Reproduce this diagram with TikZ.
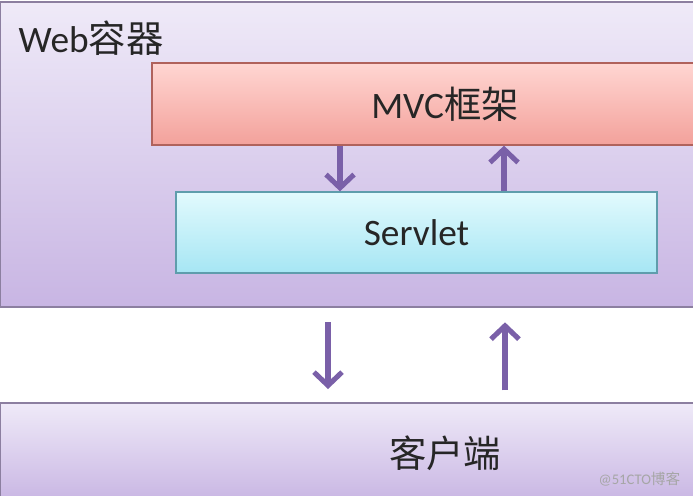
\documentclass[tikz,border=0pt]{standalone}
\usepackage{fontspec}
\setmainfont{Carlito}
\newfontfamily\cjk{Noto Sans CJK SC}
\usetikzlibrary{arrows.meta,positioning}
\definecolor{webtop}{HTML}{EFEAF8}
\definecolor{webbot}{HTML}{C8B5E3}
\definecolor{webline}{HTML}{8C7FA0}
\definecolor{mvctop}{HTML}{FFD6D2}
\definecolor{mvcbot}{HTML}{F3A19B}
\definecolor{mvcline}{HTML}{B0625C}
\definecolor{srvtop}{HTML}{E2FAFD}
\definecolor{srvbot}{HTML}{A6E6F4}
\definecolor{srvline}{HTML}{5F9DAC}
\definecolor{flowcol}{HTML}{7A60A8}
\tikzset{
	box/.style={draw=#1, line width=1pt, shading=axis, inner sep=0pt},
	flow/.style={draw=flowcol, line width=3.8pt,
		-{Straight Barb[length=10pt,width=21pt]}},
	lbl/.style={font=\fontsize{28}{32}\selectfont, text=black!85}
}
\begin{document}
\begin{tikzpicture}[x=0.75pt,y=-0.75pt]%px grid
	\clip (0,0) rectangle (693,496);
	\fill[white] (0,0) rectangle (693,496);
	% web container and client
	\node[box=webline, top color=webtop, bottom color=webbot,
		minimum width=526.5pt, minimum height=228.75pt] (web) at (351,154.5) {};
	\node[lbl, anchor=west] (webtxt) at (14,38) {Web{\cjk 容器}};
	\node[box=webline, top color=webtop, bottom color=webbot,
		minimum width=667.5pt, minimum height=75pt, lbl] (client) at (445,453) {\cjk 客户端};
	% inner boxes
	\node[box=mvcline, top color=mvctop, bottom color=mvcbot,
		minimum width=439.5pt, minimum height=61.5pt, lbl] (mvc) at (445,104) {MVC{\cjk 框架}};
	\node[box=srvline, top color=srvtop, bottom color=srvbot,
		minimum width=360.75pt, minimum height=60.75pt, lbl] (servlet) at (416.5,232.5) {Servlet};
	% arrows
	\coordinate (d1) at (340,0);
	\coordinate (u1) at (504,0);
	\coordinate (d2) at (328,0);
	\coordinate (u2) at (505,0);
	\draw[flow] (mvc.south -| d1) -- (servlet.north -| d1);
	\draw[flow] (servlet.north -| u1) -- (mvc.south -| u1);
	\draw[flow, shorten <=11pt, shorten >=10pt] (web.south -| d2) -- (client.north -| d2);
	\draw[flow, shorten <=9pt, shorten >=11pt] (client.north -| u2) -- (web.south -| u2);
	\node[text=black!35, font=\fontsize{11}{13}\selectfont, anchor=east] (mark) at (685,479) {@51CTO{\cjk 博客}};
\end{tikzpicture}
\end{document}
